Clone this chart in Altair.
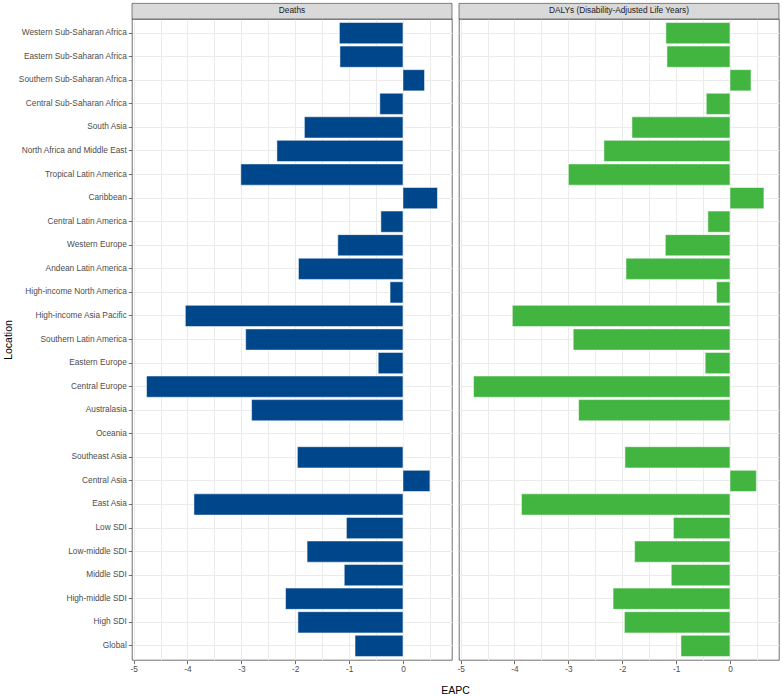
import altair as alt
import pandas as pd

locations = [
    "Western Sub-Saharan Africa", "Eastern Sub-Saharan Africa", "Southern Sub-Saharan Africa",
    "Central Sub-Saharan Africa", "South Asia", "North Africa and Middle East",
    "Tropical Latin America", "Caribbean", "Central Latin America", "Western Europe",
    "Andean Latin America", "High-income North America", "High-income Asia Pacific",
    "Southern Latin America", "Eastern Europe", "Central Europe", "Australasia", "Oceania",
    "Southeast Asia", "Central Asia", "East Asia", "Low SDI", "Low-middle SDI", "Middle SDI",
    "High-middle SDI", "High SDI", "Global",
]
deaths = [-1.18, -1.17, 0.40, -0.43, -1.83, -2.34, -3.01, 0.64, -0.41, -1.21, -1.94, -0.24,
          -4.04, -2.92, -0.46, -4.76, -2.81, 0.0, -1.96, 0.50, -3.88, -1.05, -1.78, -1.09,
          -2.18, -1.95, -0.89]
dalys = [-1.19, -1.17, 0.39, -0.44, -1.82, -2.34, -3.00, 0.63, -0.41, -1.20, -1.93, -0.25,
         -4.04, -2.91, -0.46, -4.76, -2.81, -0.01, -1.95, 0.49, -3.87, -1.05, -1.77, -1.09,
         -2.17, -1.96, -0.91]
panel_labels = ["Deaths", "DALYs (Disability-Adjusted Life Years)"]
panel_colors = ["#00468B", "#42B540"]
x_ticks = [-5, -4.5, -4, -3.5, -3, -2.5, -2, -1.5, -1, -0.5, 0, 0.5]

W = 320
H = 641
FONT = "Liberation Sans"


def panel(vals, label, color, first):
    df = pd.DataFrame({"Location": locations, "EAPC": vals})
    strip_df = pd.DataFrame({"label": [label]})
    x_axis = alt.Axis(
        values=x_ticks,
        grid=True,
        labelExpr="datum.value % 1 === 0 ? '' + datum.value : ''",
        tickOpacity={"condition": {"test": "datum.value % 1 !== 0", "value": 0}, "value": 1},
        labelPadding=1,
        title="EAPC" if first else None,
        **({"titleX": 323, "titleY": 30, "titleAlign": "center", "titleBaseline": "middle"} if first else {}),
    )
    if first:
        y_axis = alt.Axis(title="Location", grid=True, bandPosition=0.5, labelPadding=2, titlePadding=4)
    else:
        y_axis = alt.Axis(title=None, grid=True, labels=False, ticks=False, bandPosition=0.5)
    bars = alt.Chart(df).mark_bar(color=color, stroke="white", strokeWidth=0.5).encode(
        x=alt.X("EAPC:Q", scale=alt.Scale(domain=[-5.03, 0.91], nice=False, zero=False), axis=x_axis),
        x2=alt.datum(0),
        y=alt.Y("Location:N", sort=locations,
                scale=alt.Scale(paddingInner=0.1, paddingOuter=0.15), axis=y_axis),
    )
    strip = alt.Chart(strip_df).mark_rect(fill="#D9D9D9", stroke="#333333", strokeWidth=0.6).encode(
        x=alt.value(0), x2=alt.value(W), y=alt.value(-15.6), y2=alt.value(0)
    )
    text = alt.Chart(strip_df).mark_text(
        align="center", baseline="middle", font=FONT, fontSize=8.3, color="#1A1A1A"
    ).encode(x=alt.value(W / 2), y=alt.value(-7.8), text="label:N")
    return alt.layer(bars, strip, text).properties(width=W, height=H)


left = panel(deaths, panel_labels[0], panel_colors[0], True)
right = panel(dalys, panel_labels[1], panel_colors[1], False)

chart = alt.hconcat(left, right, spacing=7, bounds="flush").properties(
    padding={"left": 3, "top": 2, "right": 2, "bottom": 2}
).configure_axis(
    domain=False,
    gridColor="#EBEBEB",
    gridWidth=1,
    labelColor="#4D4D4D",
    labelFont=FONT,
    labelFontSize=8.3,
    tickColor="#333333",
    tickSize=3.7,
    tickWidth=0.7,
    titleFont=FONT,
    titleFontSize=10.5,
    titleFontWeight="normal",
    titleColor="#000000",
).configure_view(stroke="#333333", strokeWidth=0.7)

chart.save("out.html", embed_options={"renderer": "svg", "actions": False})
